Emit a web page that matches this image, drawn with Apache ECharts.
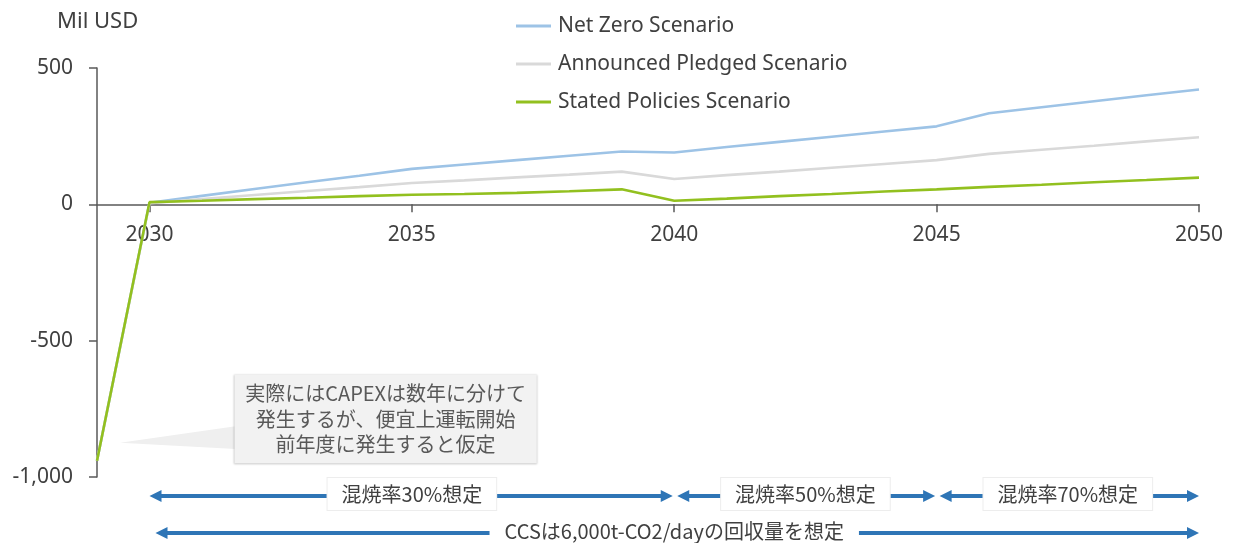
<!DOCTYPE html>
<html>
<head>
<meta charset="utf-8">
<script src="https://cdn.jsdelivr.net/npm/echarts@6/dist/echarts.min.js"></script>
<style>
  html, body { margin: 0; padding: 0; background: #ffffff; }
  #chart { width: 1236px; height: 543px; }
</style>
</head>
<body>
<div id="chart"></div>
<script>
// Years on the horizontal axis (CAPEX year 2029, operation 2030-2050)
const years = ['2029','2030','2031','2032','2033','2034','2035','2036','2037','2038','2039',
               '2040','2041','2042','2043','2044','2045','2046','2047','2048','2049','2050'];

// Annual cash flow, Mil USD
const netZero = [-940, 6, 31, 56, 81, 105, 130, 146, 162, 178, 194,
                 190, 210, 229, 248, 267, 286, 334, 356, 378, 400, 421];
const announcedPledged = [-940, 4, 19, 34, 49, 63, 78, 88, 99, 109, 120,
                          93, 107, 120, 134, 148, 162, 185, 200, 215, 231, 246];
const statedPolicies = [-940, 8, 13, 19, 24, 30, 35, 38, 42, 48, 55,
                        13, 21, 30, 38, 47, 55, 64, 72, 81, 89, 98];

const seriesNames = ['Net Zero Scenario', 'Announced Pledged Scenario', 'Stated Policies Scenario'];
const seriesColors = ['#9DC3E6', '#D9D9D9', '#92C01F'];

// Y axis range and step
const yMin = -1000, yMax = 500, yStep = 500;

// Note box text
const noteLines = ['実際にはCAPEXは数年に分けて', '発生するが、便宜上運転開始', '前年度に発生すると仮定'];

// Assumption spans drawn under the plot: [from year, to year, label, row]
const spanStart = [2030, 2040, 2045, 2030];
const spanEnd   = [2040, 2045, 2050, 2050];
const spanLabel = ['混焼率30%想定', '混焼率50%想定', '混焼率70%想定', 'CCSは6,000t-CO2/dayの回収量を想定'];
const spanRow   = [0, 0, 0, 1];

const LATIN = '"Noto Sans", "Noto Sans CJK JP", sans-serif';
const CJK = '"Noto Sans CJK JP", "Noto Sans", sans-serif';
const AXIS_COLOR = '#595959';
const TEXT_COLOR = '#404040';

// Plot area
const W = 1236, H = 543;
const gridLeft = 97, gridRight = 37, gridTop = 68, gridBottom = 66;
const plotH = H - gridTop - gridBottom;
// pixel row of value 0 (year labels hang from it)
const zeroY = gridTop + plotH * (yMax - 0) / (yMax - yMin);

const fiveYearly = (i, v) => Number(v) % 5 === 0;

const chart = echarts.init(document.getElementById('chart'), null, { renderer: 'canvas' });

const datasets = [netZero, announcedPledged, statedPolicies];

chart.setOption({
  animation: false,
  backgroundColor: '#ffffff',
  textStyle: { fontFamily: LATIN },
  grid: [
    { left: gridLeft, right: gridRight, top: gridTop, bottom: gridBottom, containLabel: false },
    // label band whose bottom edge sits on the zero line
    { left: gridLeft, right: gridRight, top: gridTop, bottom: H - zeroY, containLabel: false }
  ],
  legend: {
    orient: 'vertical',
    left: 511,
    top: 9,
    itemWidth: 35,
    itemHeight: 3,
    itemGap: 14,
    icon: 'rect',
    data: seriesNames,
    textStyle: { fontFamily: LATIN, fontSize: 21, color: TEXT_COLOR, lineHeight: 24, padding: [0, 0, 0, 2] }
  },
  xAxis: [
    {
      type: 'category',
      gridIndex: 0,
      data: years,
      boundaryGap: false,
      axisLine: { onZero: true, lineStyle: { color: AXIS_COLOR, width: 1.5 } },
      axisTick: { show: true, length: 8, interval: fiveYearly, lineStyle: { color: AXIS_COLOR, width: 1.5 } },
      axisLabel: { show: false },
      splitLine: { show: false }
    },
    {
      type: 'category',
      gridIndex: 1,
      data: years,
      boundaryGap: false,
      position: 'bottom',
      axisLine: { show: false, onZero: false },
      axisTick: { show: false },
      axisLabel: { interval: fiveYearly, fontFamily: LATIN, fontSize: 21, color: TEXT_COLOR, margin: 20 },
      splitLine: { show: false }
    }
  ],
  yAxis: [
    {
      type: 'value',
      gridIndex: 0,
      min: yMin, max: yMax, interval: yStep,
      axisLine: { show: true, lineStyle: { color: AXIS_COLOR, width: 1.5 } },
      axisTick: { show: true, length: 8, lineStyle: { color: AXIS_COLOR, width: 1.5 } },
      axisLabel: {
        fontFamily: LATIN, fontSize: 21, color: TEXT_COLOR, margin: 24,
        formatter: v => v.toLocaleString('en-US')
      },
      splitLine: { show: false }
    },
    {
      type: 'value',
      gridIndex: 1,
      min: 0, max: yMax,
      show: false
    }
  ],
  series: seriesNames.map((name, i) => ({
    name,
    type: 'line',
    xAxisIndex: 0,
    yAxisIndex: 0,
    data: datasets[i],
    showSymbol: false,
    symbol: 'none',
    color: seriesColors[i],
    lineStyle: { color: seriesColors[i], width: 2.6 },
    z: 2 + i
  }))
});

// Helpers mapping axis values to pixels for annotations
const p2030 = chart.convertToPixel({ gridIndex: 0 }, [years.indexOf('2030'), 0]);
const p2050 = chart.convertToPixel({ gridIndex: 0 }, [years.indexOf('2050'), 0]);
const pMin = chart.convertToPixel({ gridIndex: 0 }, [0, yMin]);
const perYear = (p2050[0] - p2030[0]) / 20;
const perUnit = (pMin[1] - p2030[1]) / yMin;
const X = yr => p2030[0] + (yr - 2030) * perYear;
const Y = v => p2030[1] + v * perUnit;

const graphics = [];

// Unit caption
graphics.push({
  type: 'text', left: 57, top: 11,
  style: { text: 'Mil USD', font: '22px ' + LATIN, fill: TEXT_COLOR }
});

// Note callout: pointer + box
const boxL = X(2031.62), boxR = X(2037.38), boxT = Y(-624), boxB = Y(-950);
graphics.push({
  type: 'polygon', z: 10,
  shape: { points: [[X(2029.44), Y(-874)], [boxL + 1, Y(-814)], [boxL + 1, Y(-897)]] },
  style: { fill: '#EFEFEF' }
});
graphics.push({
  type: 'rect', z: 11,
  shape: { x: boxL, y: boxT, width: boxR - boxL, height: boxB - boxT },
  style: { fill: '#F2F2F2', shadowBlur: 2, shadowOffsetY: 1, shadowColor: 'rgba(0,0,0,0.25)' }
});
const noteMid = (boxT + boxB) / 2;
noteLines.forEach((t, i) => {
  graphics.push({
    type: 'text', z: 12,
    x: (boxL + boxR) / 2, y: noteMid + (i - 1) * 25.5,
    style: { text: t, font: '20px ' + CJK, fill: '#595959', align: 'center', verticalAlign: 'middle' }
  });
});

// Double-headed span arrows with centred labels
const ARROW = '#2E75B6';
const rowY = [Y(yMin) + 19, Y(yMin) + 56];
const headL = 12, headW = 6;
spanStart.forEach((s, i) => {
  const y = rowY[spanRow[i]];
  const x1 = X(s) + (spanRow[i] === 0 ? (s === 2030 ? 0 : 3) : 6);
  const x2 = X(spanEnd[i]) - (spanEnd[i] === 2050 ? 0 : 1.5);
  graphics.push({
    type: 'line', z: 10,
    shape: { x1: x1 + headL - 1, y1: y, x2: x2 - headL + 1, y2: y },
    style: { stroke: ARROW, lineWidth: 4 }
  });
  graphics.push({
    type: 'polygon', z: 10,
    shape: { points: [[x1, y], [x1 + headL, y - headW], [x1 + headL, y + headW]] },
    style: { fill: ARROW }
  });
  graphics.push({
    type: 'polygon', z: 10,
    shape: { points: [[x2, y], [x2 - headL, y - headW], [x2 - headL, y + headW]] },
    style: { fill: ARROW }
  });
  graphics.push({
    type: 'text', z: 12,
    x: (X(s) + X(spanEnd[i])) / 2, y: y - 2,
    style: {
      text: spanLabel[i], font: '20px ' + CJK, fill: TEXT_COLOR,
      align: 'center', verticalAlign: 'middle',
      backgroundColor: '#ffffff',
      borderColor: spanRow[i] === 0 ? '#EDEDED' : '#ffffff', borderWidth: 1,
      padding: spanRow[i] === 0 ? [6, 14, 6, 14] : [2, 14, 2, 14]
    }
  });
});

chart.setOption({ graphic: graphics });
</script>
</body>
</html>
